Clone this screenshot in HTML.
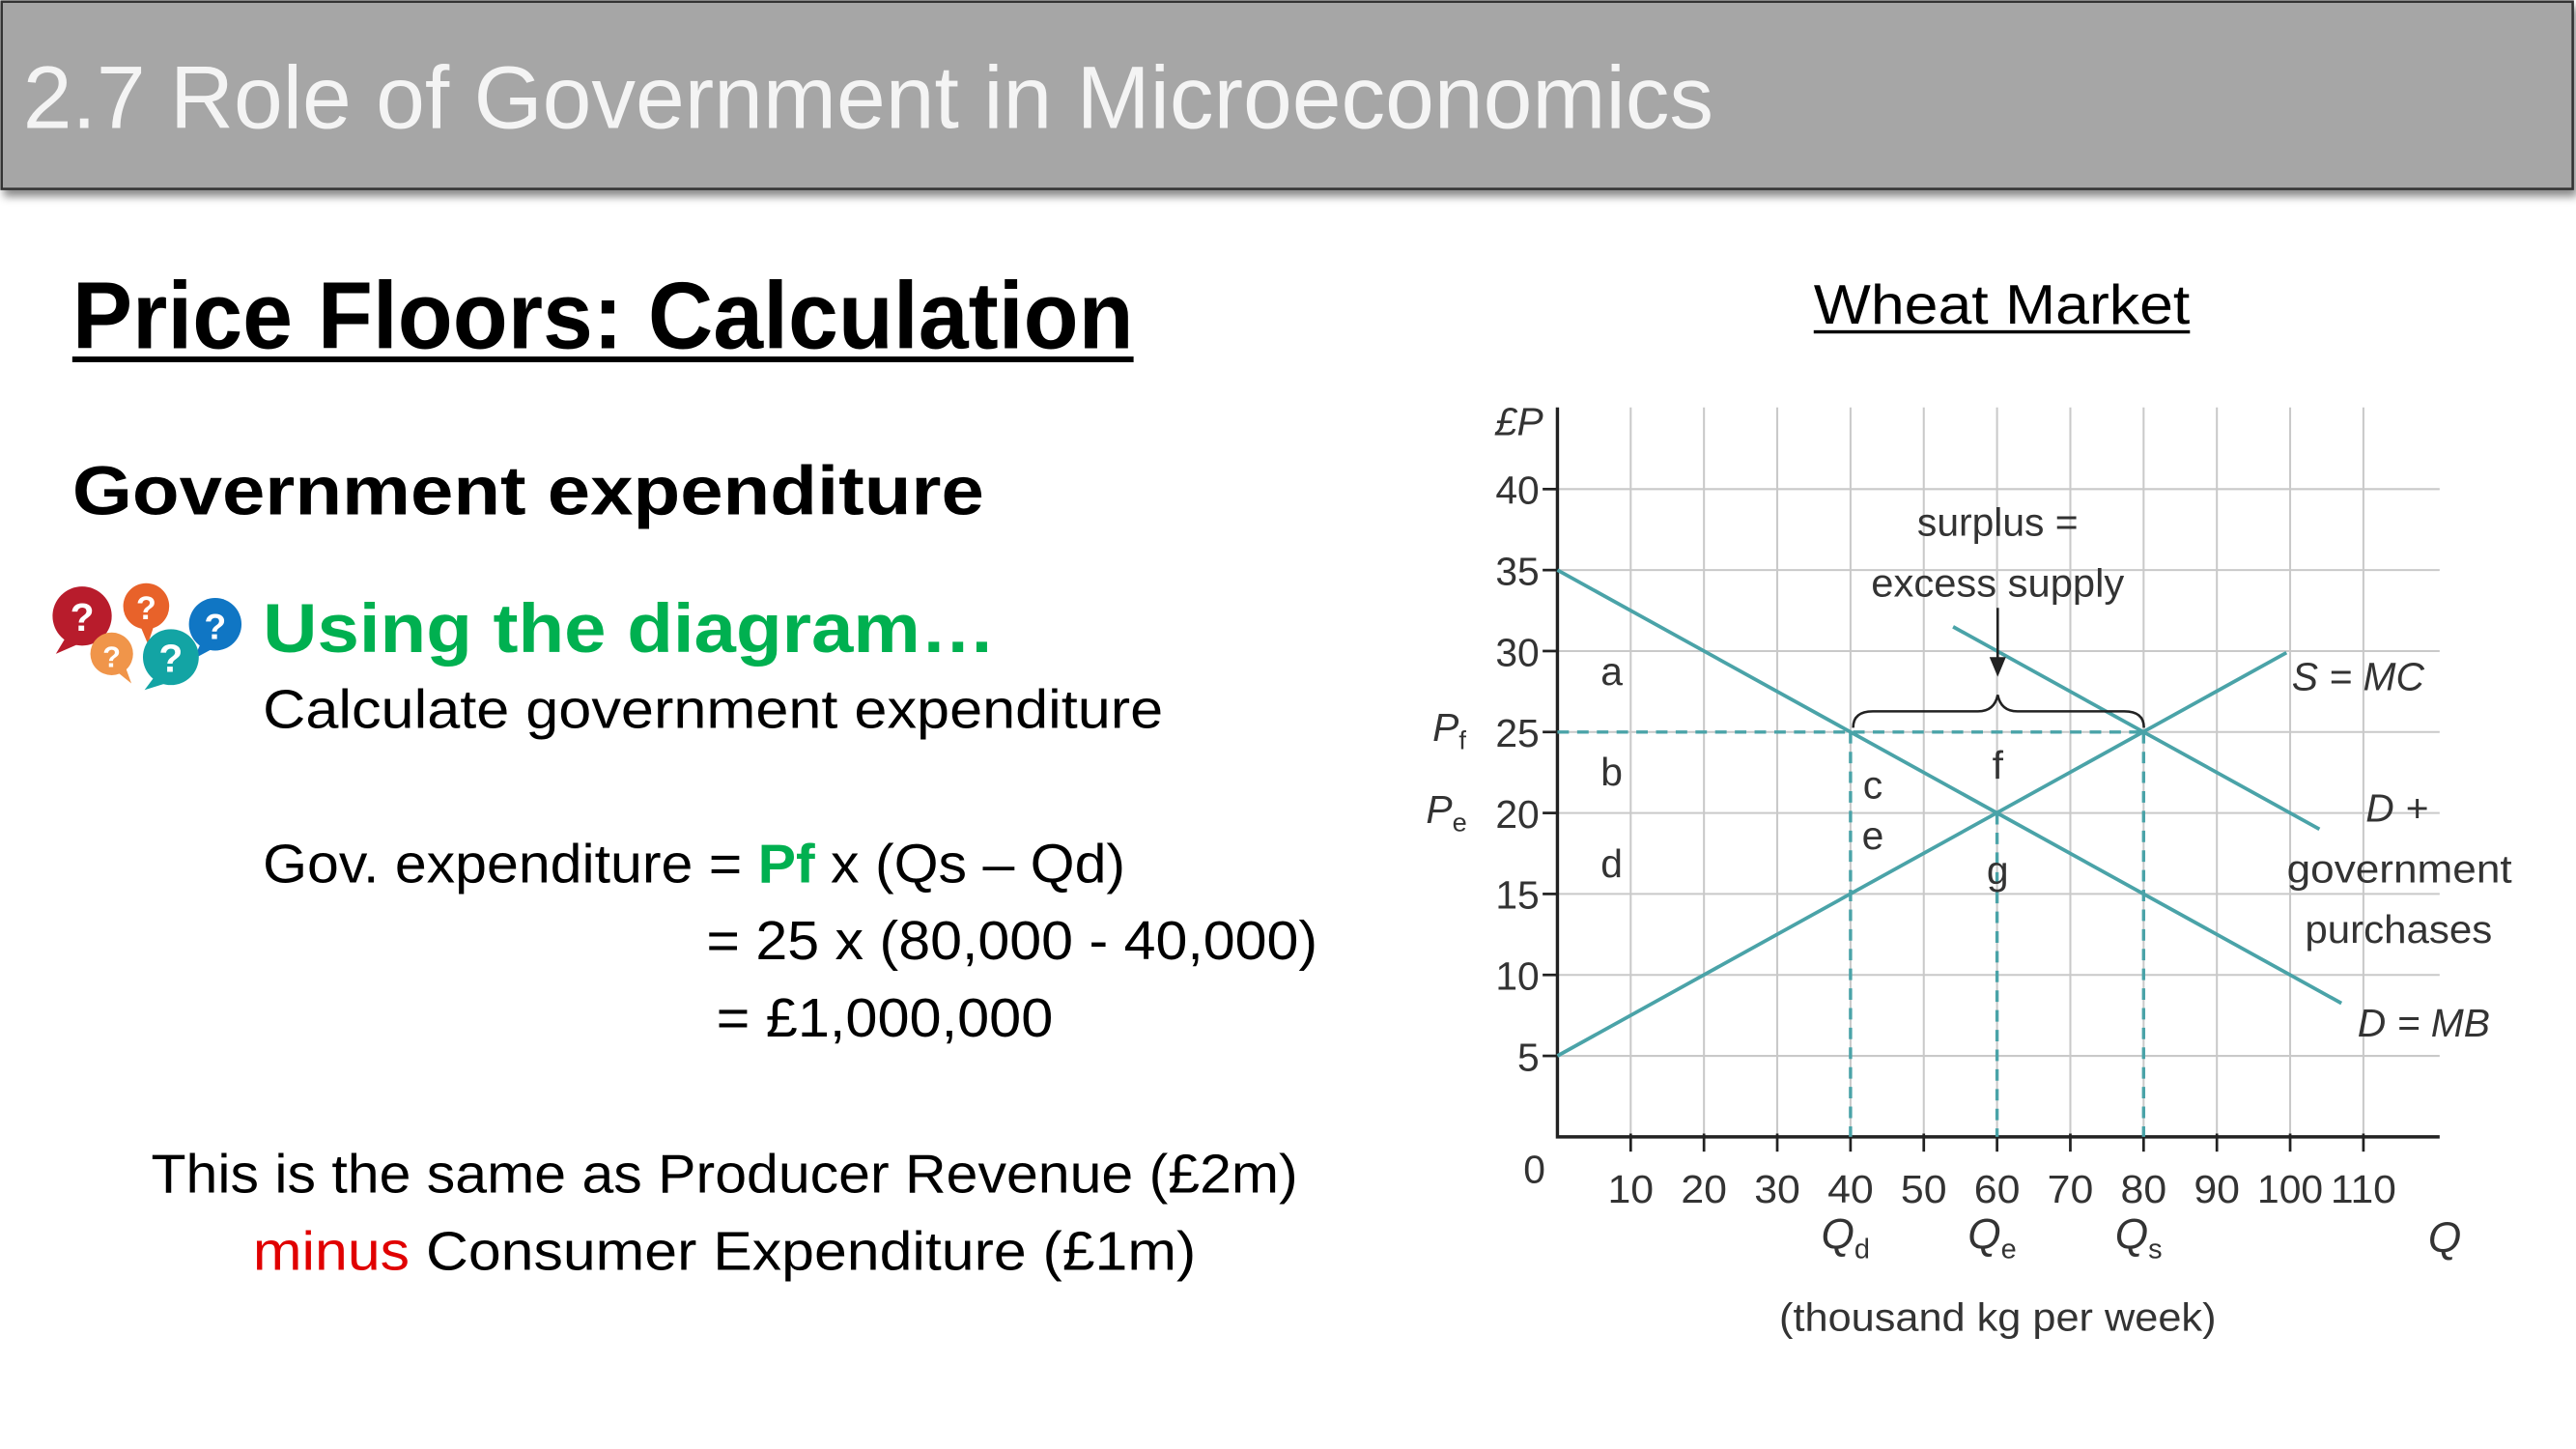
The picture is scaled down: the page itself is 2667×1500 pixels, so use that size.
<!DOCTYPE html>
<html><head><meta charset="utf-8"><style>
html,body{margin:0;padding:0;background:#fff;width:2667px;height:1500px;overflow:hidden}
svg{display:block}
text{font-family:"Liberation Sans",sans-serif}
</style></head><body>
<svg id="page" width="2667" height="1500" viewBox="0 0 1568 882" preserveAspectRatio="none" xmlns="http://www.w3.org/2000/svg">
<defs><filter id="sh" x="-5%" y="-20%" width="110%" height="150%"><feDropShadow dx="2" dy="4" stdDeviation="2.5" flood-color="#000" flood-opacity="0.45"/></filter></defs>
<g>
<rect x="1" y="1" width="1565" height="114" fill="#a6a6a6" stroke="#333" stroke-width="1.5" filter="url(#sh)"/>
<text x="14" y="78" font-size="54" fill="#f4f4f4" textLength="1029" lengthAdjust="spacingAndGlyphs">2.7 Role of Government in Microeconomics</text>
</g>
<text x="44" y="212" font-size="58" font-weight="bold" fill="#000" textLength="646" lengthAdjust="spacingAndGlyphs">Price Floors: Calculation</text>
<rect x="44" y="217" width="646" height="3.5" fill="#000"/>
<text x="44" y="313" font-size="42" font-weight="bold" fill="#000" textLength="555" lengthAdjust="spacingAndGlyphs">Government expenditure</text>
<g>
<circle cx="89" cy="369" r="14" fill="#e8622a"/><path d="M85 380 L90 392 L94 380Z" fill="#e8622a"/>
<circle cx="50" cy="375" r="18" fill="#b81c2c"/><path d="M40 388 L34 398 L50 391Z" fill="#b81c2c"/>
<circle cx="68" cy="398" r="13" fill="#f0954a"/><path d="M70 408 L80 416 L76 405Z" fill="#f0954a"/>
<circle cx="131" cy="380" r="16" fill="#1076c4"/><path d="M122 392 L118 401 L131 394Z" fill="#1076c4"/>
<circle cx="104" cy="400" r="17" fill="#13a4a4"/><path d="M94 412 L88 420 L104 415Z" fill="#13a4a4"/>
<g font-weight="bold" fill="#fff" text-anchor="middle"><text x="50" y="384" font-size="24">?</text><text x="89" y="377" font-size="20">?</text><text x="68" y="406" font-size="18">?</text><text x="104" y="409" font-size="24">?</text><text x="131" y="389" font-size="22">?</text></g>
</g>
<text x="160" y="397" font-size="42" font-weight="bold" fill="#00b050" textLength="446" lengthAdjust="spacingAndGlyphs">Using the diagram…</text>
<g font-size="33" fill="#000">
<text x="160" y="443" textLength="548" lengthAdjust="spacingAndGlyphs">Calculate government expenditure</text>
<text x="160" y="537" textLength="525" lengthAdjust="spacingAndGlyphs">Gov. expenditure = <tspan fill="#00b050" font-weight="bold">Pf</tspan> x (Qs – Qd)</text>
<text x="430" y="584" textLength="372" lengthAdjust="spacingAndGlyphs">= 25 x (80,000 - 40,000)</text>
<text x="436" y="631" textLength="205" lengthAdjust="spacingAndGlyphs">= £1,000,000</text>
<text x="92" y="726" textLength="698" lengthAdjust="spacingAndGlyphs">This is the same as Producer Revenue (£2m)</text>
<text x="154" y="773" textLength="574" lengthAdjust="spacingAndGlyphs"><tspan fill="#e00000">minus</tspan> Consumer Expenditure (£1m)</text>
</g>
<text x="1104" y="197" font-size="34" fill="#000" textLength="229" lengthAdjust="spacingAndGlyphs">Wheat Market</text>
<rect x="1104" y="201" width="229" height="2" fill="#000"/>
<g id="chart"></g>
</svg>
<script>
const qTicks=[10,20,30,40,50,60,70,80,90,100,110];
const pTicks=[5,10,15,20,25,30,35,40];
const demandQ=[0,107];
const demandP=[35,8.25];
const supplyQ=[0,99.5];
const supplyP=[5,29.9];
const govDemandQ=[54,104];
const govDemandP=[31.5,19];
const priceFloor=25;
const eqPrice=20;
const qMarks=[40,60,80];
const qMarkLabels=["d","e","s"];
const X=q=>948+q*4.46, Y=p=>692-p*9.857;
const NS="http://www.w3.org/2000/svg", g=document.getElementById('chart');
const teal="#4aa3a8";
function el(t,a,txt){const e=document.createElementNS(NS,t);for(const k in a)e.setAttribute(k,a[k]);if(txt!==undefined)e.textContent=txt;g.appendChild(e);return e;}
for(const q of qTicks){const e=el('line',{x1:X(q),x2:X(q),y1:248,y2:692,stroke:"#c9c9c9","stroke-width":1.2});

}
for(const p of pTicks){const e=el('line',{x1:X(0),x2:1485,y1:Y(p),y2:Y(p),stroke:"#c9c9c9","stroke-width":1.2});

}
const ax=el('path',{d:`M${X(0)} 248 V${Y(0)} H1485`,fill:"none",stroke:"#222","stroke-width":2});


for(const p of pTicks){el('line',{x1:X(0)-9,x2:X(0),y1:Y(p),y2:Y(p),stroke:"#222","stroke-width":1.6});
const t=el('text',{x:X(0)-11,y:Y(p)+9,"font-size":24,"text-anchor":"end",fill:"#333"},String(p));

}
for(const q of qTicks){el('line',{x1:X(q),x2:X(q),y1:Y(0)-2,y2:Y(0)+9,stroke:"#222","stroke-width":1.6});
const t=el('text',{x:X(q),y:732,"font-size":24,"text-anchor":"middle",fill:"#333",textLength:q>=100?40:28,lengthAdjust:"spacingAndGlyphs"},String(q));

}
el('text',{x:934,y:720,"font-size":24,"text-anchor":"middle",fill:"#333"},"0");
el('text',{x:910,y:265,"font-size":24,"font-style":"italic",fill:"#333"},"£P");
el('text',{x:872,y:451,"font-size":24,"font-style":"italic",fill:"#333"},"P").innerHTML='P<tspan font-size="16" font-style="normal" dy="5">f</tspan>';
el('text',{x:868,y:501,"font-size":24,"font-style":"italic",fill:"#333"}).innerHTML='P<tspan font-size="16" font-style="normal" dy="5">e</tspan>';
// dashed
const dash={stroke:teal,"stroke-width":2,"stroke-dasharray":"7 5",fill:"none"};
const df=el('line',Object.assign({x1:X(0),x2:X(qMarks[2]),y1:Y(priceFloor),y2:Y(priceFloor)},dash));


const capP=[priceFloor,eqPrice,priceFloor];
qMarks.forEach((q,i)=>{const d=el('line',Object.assign({x1:X(q),x2:X(q),y1:Y(capP[i]),y2:Y(0)},dash));


const t=el('text',{x:X(q)-3,y:760,"font-size":26,"font-style":"italic","text-anchor":"middle",fill:"#333"});
t.innerHTML='Q<tspan font-size="17" font-style="normal" dy="6">'+qMarkLabels[i]+'</tspan>';

});
function line(qs,ps,name){const l=el('line',{x1:X(qs[0]),y1:Y(ps[0]),x2:X(qs[1]),y2:Y(ps[1]),stroke:teal,"stroke-width":2.2});

}
line(demandQ,demandP,'demand-line');
line(supplyQ,supplyP,'supply-line');
line(govDemandQ,govDemandP,'demand-plus-government-line');
const lab=(x,y,s,extra)=>el('text',Object.assign({x,y,"font-size":24,fill:"#333"},extra||{}),s);
lab(1478,762,"Q",{"font-style":"italic","font-size":26});
lab(1216,810,"(thousand kg per week)",{"text-anchor":"middle","textLength":266,"lengthAdjust":"spacingAndGlyphs"});
lab(1216,326,"surplus =",{"text-anchor":"middle"});
lab(1216,363,"excess supply",{"text-anchor":"middle","textLength":154,"lengthAdjust":"spacingAndGlyphs"});
el('line',{x1:1216,y1:370,x2:1216,y2:405,stroke:"#222","stroke-width":1.5});
el('path',{d:"M1211 400 L1216 412 L1221 400Z",fill:"#222"});
el('path',{d:"M1128 443 Q1128 433 1140 433 L1204 433 Q1214 433 1216 423 Q1218 433 1228 433 L1293 433 Q1305 433 1305 443",fill:"none",stroke:"#222","stroke-width":1.5});
[["a",981,417],["b",981,478],["d",981,534],["c",1140,486],["e",1140,517],["f",1216,474],["g",1216,538]].forEach(a=>lab(a[1],a[2],a[0],{"text-anchor":"middle"}));
lab(1395,420,"S = MC",{"font-style":"italic"});
lab(1440,500,"D +",{"font-style":"italic"});
lab(1392,537,"government",{"textLength":137,"lengthAdjust":"spacingAndGlyphs"});
lab(1403,574,"purchases",{"textLength":114,"lengthAdjust":"spacingAndGlyphs"});
lab(1435,631,"D = MB",{"font-style":"italic"});
</script>
</body></html>
